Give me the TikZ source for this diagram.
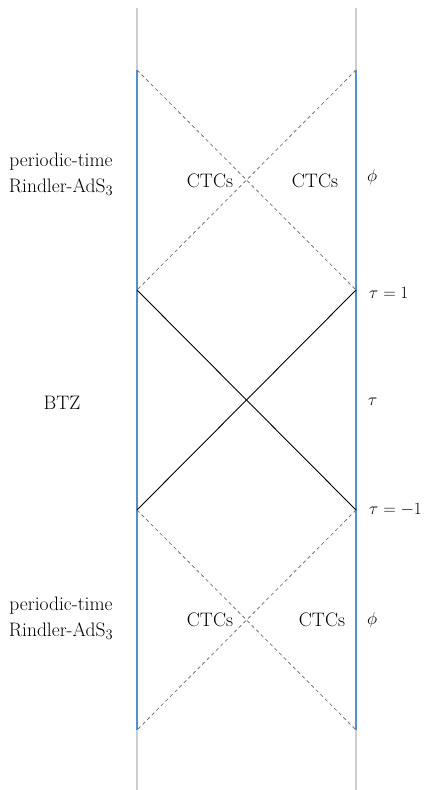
\documentclass[tikz,border=0pt]{standalone}
\usepackage{amsmath}
\definecolor{bnd}{RGB}{84,142,206}
\definecolor{lgr}{RGB}{205,205,205}
\definecolor{dgr}{RGB}{120,120,120}
\begin{document}
\begin{tikzpicture}[x=1pt,y=-1pt,
  every node/.style={font=\fontsize{19.5}{26}\selectfont, inner sep=0pt},
  mathlbl/.style={anchor=west, font=\fontsize{18.6}{22}\selectfont},
  twoline/.style={align=center},
  gline/.style={lgr, line width=1.6pt},
  bline/.style={bnd, line width=1.6pt},
  dline/.style={dgr, dashed, dash pattern=on 3.5pt off 3pt, line width=0.8pt},
  sline/.style={black, line width=0.9pt}]
\useasboundingbox (0,0) rectangle (426,790);
% coordinates
\coordinate (LT) at (137,8);
\coordinate (LB) at (137,790);
\coordinate (RT) at (356,8);
\coordinate (RB) at (356,790);
\coordinate (L1) at (137,70);
\coordinate (L2) at (137,290);
\coordinate (L3) at (137,510);
\coordinate (L4) at (137,730);
\coordinate (R1) at (356,70);
\coordinate (R2) at (356,290);
\coordinate (R3) at (356,510);
\coordinate (R4) at (356,730);
\draw[gline] (LT) -- (LB);
\draw[gline] (RT) -- (RB);
\draw[bline] (L1) -- (L4);
\draw[bline] (R1) -- (R4);
\draw[dline] (L1) -- (R2);
\draw[dline] (R1) -- (L2);
\draw[dline] (L3) -- (R4);
\draw[dline] (R3) -- (L4);
\draw[sline] (L2) -- (R3);
\draw[sline] (R2) -- (L3);
% labels
\node[twoline] (top) at (61,174) {periodic-time\\Rindler-AdS$_3$};
\node (ctc1) at (210,181) {CTCs};
\node (ctc2) at (315,181) {CTCs};
\node[mathlbl] (phi1) at (367,177) {$\phi$};
\node[mathlbl] (tau1) at (369,293) {$\tau=1$};
\node (btz) at (62,403) {BTZ};
\node[mathlbl] (tau) at (368,402) {$\tau$};
\node[mathlbl] (tau2) at (369,510) {$\tau=-1$};
\node[twoline] (bot) at (61,618) {periodic-time\\Rindler-AdS$_3$};
\node (ctc3) at (210,620) {CTCs};
\node (ctc4) at (322,620) {CTCs};
\node[mathlbl] (phi2) at (367,620) {$\phi$};
\end{tikzpicture}
\end{document}
